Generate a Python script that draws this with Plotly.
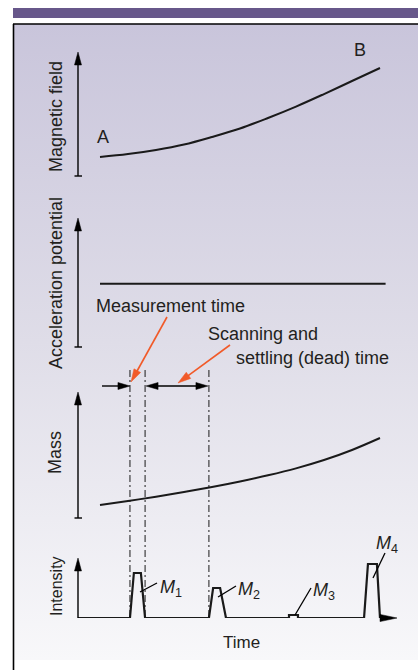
import plotly.graph_objects as go
import math

# ---------------- data (arbitrary schematic units) ----------------
time_pts = [0, 10, 20, 30, 40, 50, 60, 70, 80, 90, 100]
magnetic_field = [15.3, 17.7, 21.0, 25.4, 31.5, 38.3, 46.8, 56.0, 66.1, 76.6, 87.1]
mass_values = [10.3, 13.5, 16.9, 20.6, 24.6, 29.0, 33.9, 39.4, 46.0, 54.0, 63.5]
accel_time = [0, 102]
accel_potential = [49, 49]

peak_labels = ["1", "2", "3", "4"]
peak_start = [10.7, 38.9, 67.5, 94.3]
peak_top_start = [12.1, 40.4, 67.5, 95.7]
peak_top_end = [14.6, 42.9, 70.7, 98.9]
peak_end = [16.1, 45.0, 70.7, 100.0]
peak_height = [75, 50, 5, 90]
time_axis_range = [-7.9, 103]

panel_labels = ["Magnetic field", "Acceleration potential", "Mass", "Intensity"]

# ---------------- helpers ----------------
W, H = 418, 670
TXT = "#231F20"
FONT = "Liberation Sans, Arial, sans-serif"
ORANGE = "#F15A29"


def t2px(t):
    return 100 + 2.8 * t


def head(tip, tail, length=12, half=3.5, color="black"):
    dx, dy = tip[0] - tail[0], tip[1] - tail[1]
    n = math.hypot(dx, dy)
    ux, uy = dx / n, dy / n
    bx, by = tip[0] - ux * length, tip[1] - uy * length
    px_, py_ = -uy * half, ux * half
    path = f"M{tip[0]},{tip[1]} L{bx + px_},{by + py_} L{bx - px_},{by - py_} Z"
    return dict(type="path", path=path, xref="x", yref="y", fillcolor=color,
                line=dict(color=color, width=0.5), layer="above")


def seg(x0, y0, x1, y1, color="black", width=1.5, dash=None, xref="x", yref="y"):
    d = dict(type="line", x0=x0, y0=y0, x1=x1, y1=y1, xref=xref, yref=yref,
             line=dict(color=color, width=width))
    if dash:
        d["line"]["dash"] = dash
    return d


fig = go.Figure()

# background panel with vertical gradient (pixel frame axes x/y)
fig.add_trace(go.Scatter(
    x=[14, W, W, 14, 14], y=[24, 24, 660, 660, 24], mode="lines",
    line=dict(width=0), fill="toself",
    fillgradient=dict(type="vertical", start=24, stop=660,
                      colorscale=[[0, "#C9C5DB"], [0.5, "#DFDDE8"], [1, "#F8F8FA"]]),
    hoverinfo="skip", showlegend=False, xaxis="x", yaxis="y"))

# magnetic field curve
fig.add_trace(go.Scatter(x=time_pts, y=magnetic_field, mode="lines",
                         line=dict(color="#1a1a1a", width=2, shape="spline", smoothing=1),
                         xaxis="x2", yaxis="y2", showlegend=False))
# acceleration potential
fig.add_trace(go.Scatter(x=accel_time, y=accel_potential, mode="lines",
                         line=dict(color="#1a1a1a", width=2),
                         xaxis="x2", yaxis="y3", showlegend=False))
# mass
fig.add_trace(go.Scatter(x=time_pts, y=mass_values, mode="lines",
                         line=dict(color="#1a1a1a", width=2, shape="spline", smoothing=1),
                         xaxis="x2", yaxis="y4", showlegend=False))

# intensity signal
sx, sy = [time_axis_range[0]], [0]
for a, b, c, d, h in zip(peak_start, peak_top_start, peak_top_end, peak_end, peak_height):
    sx += [a, b, c, d]
    sy += [0, h, h, 0]
sx.append(time_axis_range[1])
sy.append(0)
fig.add_trace(go.Scatter(x=sx, y=sy, mode="lines",
                         line=dict(color="#1a1a1a", width=2.2),
                         xaxis="x2", yaxis="y5", showlegend=False))

shapes = []
# purple band
shapes.append(dict(type="rect", xref="x", yref="y", x0=13, x1=W, y0=8, y1=18,
                   fillcolor="#67578A", line=dict(width=0), layer="below"))
# frame border (top and left)
shapes.append(seg(13, 24, W, 24, width=1.6))
shapes.append(seg(13.5, 24, 13.5, 670, width=1.6))

# panel axis arrows
arrows = [(52, 176, True), (218, 347, True), (392, 518, True), (558, 618, False)]
for top, bot, tick in arrows:
    shapes.append(seg(78, bot, 78, top + 8, width=1.4))
    shapes.append(head((78, top), (78, bot), length=13, half=3.5))
    if tick:
        shapes.append(seg(74.5, bot, 82, bot, width=1.4))
# time axis arrowhead
shapes.append(head((397, 618), (370, 618), length=17, half=3.6))

# dash-dot guide lines (measurement / dead time)
for xv in [peak_start[0], peak_end[0], peak_start[1]]:
    shapes.append(dict(type="line", xref="x2", yref="y", x0=xv, x1=xv, y0=370, y1=618,
                       line=dict(color="#1a1a1a", width=1, dash="7px,3px,2px,3px")))

# dimension arrows
x_a, x_b, x_c = t2px(peak_start[0]), t2px(peak_end[0]), t2px(peak_start[1])
shapes.append(seg(102, 386, x_a - 8, 386, width=1.4))
shapes.append(head((x_a, 386), (102, 386), length=12, half=3.5))
shapes.append(seg(x_b + 8, 386, x_c - 8, 386, width=1.4))
shapes.append(head((x_b + 1, 386), (x_c, 386), length=12, half=3.5))
shapes.append(head((x_c - 1, 386), (x_b, 386), length=12, half=3.5))

# orange pointer arrows
for tail, tip in [((167, 317), (131, 382)), ((230, 345), (178, 383))]:
    dx, dy = tip[0] - tail[0], tip[1] - tail[1]
    n = math.hypot(dx, dy)
    shapes.append(seg(tail[0], tail[1], tip[0] - dx / n * 8, tip[1] - dy / n * 8,
                      color=ORANGE, width=1.6))
    shapes.append(head(tip, tail, length=13, half=3.8, color=ORANGE))

# peak leader lines
leaders = [((140, 592), (157, 583)), ((218, 597), (236, 586)),
           ((295, 615), (311, 588)), ((373, 578), (385, 553))]
for p0, p1 in leaders:
    shapes.append(seg(p0[0], p0[1], p1[0], p1[1], width=1.3))

annotations = []


def txt(x, y, s, size=18, xanchor="left", angle=0):
    annotations.append(dict(x=x, y=y, xref="x", yref="y", text=s, showarrow=False,
                            xanchor=xanchor, yanchor="middle", textangle=angle,
                            font=dict(family=FONT, size=size, color=TXT)))


label_pos = [(56, 117, 18), (56, 283, 18), (55, 453, 18), (56, 586, 16)]
for lab, (lx, ly, sz) in zip(panel_labels, label_pos):
    txt(lx, ly, lab, size=sz, xanchor="center", angle=-90)

txt(103, 137, "A", xanchor="center")
txt(360, 50, "B", xanchor="center")
txt(94, 306, "Measurement time")
txt(206, 334, "Scanning and")
txt(234, 358, "settling (dead) time")
txt(241, 642, "Time", size=17, xanchor="center")

m_pos = [(158, 588), (236, 590), (311, 591), (374, 544)]
for lab, (mx, my) in zip(peak_labels, m_pos):
    txt(mx, my, f"<i>M</i><sub>{lab}</sub>", size=18)

fig.update_layout(
    width=W, height=H, margin=dict(l=0, r=0, t=0, b=0),
    paper_bgcolor="white", plot_bgcolor="rgba(0,0,0,0)",
    shapes=shapes, annotations=annotations, showlegend=False,
    xaxis=dict(range=[0, W], domain=[0, 1], visible=False, fixedrange=True),
    yaxis=dict(range=[H, 0], domain=[0, 1], visible=False, fixedrange=True),
    xaxis2=dict(range=[-100 / 2.8, (W - 100) / 2.8], domain=[0, 1], anchor="y5",
                visible=False),
    yaxis2=dict(range=[0, 100], domain=[1 - 176 / H, 1 - 52 / H], anchor="x2", visible=False),
    yaxis3=dict(range=[0, 100], domain=[1 - 347 / H, 1 - 218 / H], anchor="x2", visible=False),
    yaxis4=dict(range=[0, 100], domain=[1 - 518 / H, 1 - 392 / H], anchor="x2", visible=False),
    yaxis5=dict(range=[0, 100], domain=[1 - 618 / H, 1 - 558 / H], anchor="x2", visible=False),
)

fig.write_html("out.html")
